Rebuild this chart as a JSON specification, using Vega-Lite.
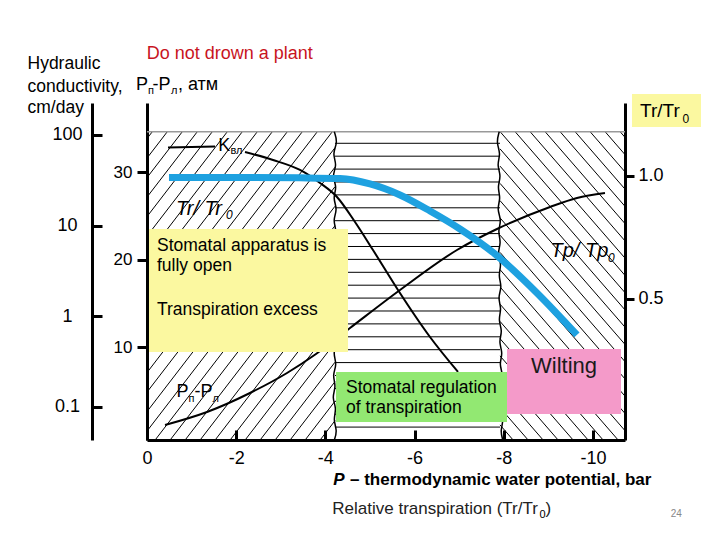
{
  "$schema": "https://vega.github.io/schema/vega-lite/v6.json",
  "width": 478,
  "height": 337,
  "autosize": "none",
  "padding": {"left": 147, "top": 103, "right": 95, "bottom": 100},
  "background": "white",
  "config": {"view": {"stroke": null}, "font": "Liberation Sans"},
  "resolve": {"scale": {"y": "independent"}, "axis": {"y": "independent", "x": "independent"}},
  "layer": [
    {
      "data": {"values": [
        {"x":0,"y":1.152,"x2":-0.1196,"y2":1.1801},
        {"x":0,"y":1.0727,"x2":-0.456,"y2":1.1801},
        {"x":0,"y":0.9934,"x2":-0.7924,"y2":1.1801},
        {"x":0,"y":0.9142,"x2":-1.1288,"y2":1.1801},
        {"x":0,"y":0.8349,"x2":-1.4652,"y2":1.1801},
        {"x":0,"y":0.7556,"x2":-1.8016,"y2":1.1801},
        {"x":0,"y":0.6764,"x2":-2.138,"y2":1.1801},
        {"x":0,"y":0.5971,"x2":-2.4744,"y2":1.1801},
        {"x":0,"y":0.5179,"x2":-2.8108,"y2":1.1801},
        {"x":0,"y":0.4386,"x2":-3.1472,"y2":1.1801},
        {"x":0,"y":0.3594,"x2":-3.4836,"y2":1.1801},
        {"x":0,"y":0.2801,"x2":-3.82,"y2":1.1801},
        {"x":0,"y":0.2009,"x2":-4.1564,"y2":1.1801},
        {"x":0,"y":0.1216,"x2":-4.216,"y2":1.1149},
        {"x":0,"y":0.0423,"x2":-4.216,"y2":1.0356},
        {"x":0,"y":-0.0369,"x2":-4.216,"y2":0.9564},
        {"x":-0.1824,"y":-0.0732,"x2":-4.216,"y2":0.8771},
        {"x":-0.5188,"y":-0.0732,"x2":-4.216,"y2":0.7979},
        {"x":-0.8552,"y":-0.0732,"x2":-4.216,"y2":0.7186},
        {"x":-1.1916,"y":-0.0732,"x2":-4.216,"y2":0.6393},
        {"x":-1.528,"y":-0.0732,"x2":-4.216,"y2":0.5601},
        {"x":-1.8644,"y":-0.0732,"x2":-4.216,"y2":0.4808},
        {"x":-2.2008,"y":-0.0732,"x2":-4.216,"y2":0.4016},
        {"x":-2.5372,"y":-0.0732,"x2":-4.216,"y2":0.3223},
        {"x":-2.8736,"y":-0.0732,"x2":-4.216,"y2":0.2431},
        {"x":-3.21,"y":-0.0732,"x2":-4.216,"y2":0.1638},
        {"x":-3.5464,"y":-0.0732,"x2":-4.216,"y2":0.0846},
        {"x":-3.8828,"y":-0.0732,"x2":-4.216,"y2":0.0053},
        {"x":-10.61,"y":1.1801,"x2":-10.72,"y2":1.1572},
        {"x":-10.2736,"y":1.1801,"x2":-10.72,"y2":1.087},
        {"x":-9.9372,"y":1.1801,"x2":-10.72,"y2":1.0169},
        {"x":-9.6008,"y":1.1801,"x2":-10.72,"y2":0.9467},
        {"x":-9.2644,"y":1.1801,"x2":-10.72,"y2":0.8766},
        {"x":-8.928,"y":1.1801,"x2":-10.72,"y2":0.8065},
        {"x":-8.5916,"y":1.1801,"x2":-10.72,"y2":0.7363},
        {"x":-8.2552,"y":1.1801,"x2":-10.72,"y2":0.6662},
        {"x":-7.9188,"y":1.1801,"x2":-10.72,"y2":0.596},
        {"x":-7.917,"y":1.1103,"x2":-10.72,"y2":0.5259},
        {"x":-7.917,"y":1.0402,"x2":-10.72,"y2":0.4558},
        {"x":-7.917,"y":0.9701,"x2":-10.72,"y2":0.3856},
        {"x":-7.917,"y":0.8999,"x2":-10.72,"y2":0.3155},
        {"x":-7.917,"y":0.8298,"x2":-10.72,"y2":0.2454},
        {"x":-7.917,"y":0.7596,"x2":-10.72,"y2":0.1752},
        {"x":-7.917,"y":0.6895,"x2":-10.72,"y2":0.1051},
        {"x":-7.917,"y":0.6194,"x2":-10.72,"y2":0.0349},
        {"x":-7.917,"y":0.5492,"x2":-10.72,"y2":-0.0352},
        {"x":-7.917,"y":0.4791,"x2":-10.5658,"y2":-0.0732},
        {"x":-7.917,"y":0.4089,"x2":-10.2294,"y2":-0.0732},
        {"x":-7.917,"y":0.3388,"x2":-9.893,"y2":-0.0732},
        {"x":-7.917,"y":0.2687,"x2":-9.5566,"y2":-0.0732},
        {"x":-7.917,"y":0.1985,"x2":-9.2202,"y2":-0.0732},
        {"x":-7.917,"y":0.1284,"x2":-8.8838,"y2":-0.0732},
        {"x":-7.917,"y":0.0582,"x2":-8.5474,"y2":-0.0732},
        {"x":-7.917,"y":-0.0119,"x2":-8.211,"y2":-0.0732},
        {"x":-4.216,"y":1.1329,"x2":-7.917,"y2":1.1329},
        {"x":-4.216,"y":1.0805,"x2":-7.917,"y2":1.0805},
        {"x":-4.216,"y":1.028,"x2":-7.917,"y2":1.028},
        {"x":-4.216,"y":0.9756,"x2":-7.917,"y2":0.9756},
        {"x":-4.216,"y":0.9232,"x2":-7.917,"y2":0.9232},
        {"x":-4.216,"y":0.8707,"x2":-7.917,"y2":0.8707},
        {"x":-4.216,"y":0.8183,"x2":-7.917,"y2":0.8183},
        {"x":-4.216,"y":0.7659,"x2":-7.917,"y2":0.7659},
        {"x":-4.216,"y":0.7134,"x2":-7.917,"y2":0.7134},
        {"x":-4.216,"y":0.661,"x2":-7.917,"y2":0.661},
        {"x":-4.216,"y":0.6085,"x2":-7.917,"y2":0.6085},
        {"x":-4.216,"y":0.5561,"x2":-7.917,"y2":0.5561},
        {"x":-4.216,"y":0.5037,"x2":-7.917,"y2":0.5037},
        {"x":-4.216,"y":0.4512,"x2":-7.917,"y2":0.4512},
        {"x":-4.216,"y":0.3988,"x2":-7.917,"y2":0.3988},
        {"x":-4.216,"y":0.3463,"x2":-7.917,"y2":0.3463},
        {"x":-4.216,"y":0.2939,"x2":-7.917,"y2":0.2939},
        {"x":-4.216,"y":0.2415,"x2":-7.917,"y2":0.2415},
        {"x":-4.216,"y":0.189,"x2":-7.917,"y2":0.189},
        {"x":-4.216,"y":0.1366,"x2":-7.917,"y2":0.1366},
        {"x":-4.216,"y":0.0841,"x2":-7.917,"y2":0.0841},
        {"x":-4.216,"y":0.0317,"x2":-7.917,"y2":0.0317},
        {"x":-4.216,"y":-0.0207,"x2":-7.917,"y2":-0.0207}
      ]},
      "mark": {"type": "rule", "color": "black", "strokeWidth": 1},
      "encoding": {
        "x": {"field": "x", "type": "quantitative", "scale": {"domain": [0, -10.72], "nice": false, "zero": false},
          "axis": {"orient": "bottom", "values": [0, -2, -4, -6, -8, -10], "labelExpr": "'' + datum.value", "title": null, "grid": false, "domainColor": "black", "domainWidth": 3, "tickColor": "black", "tickWidth": 3, "tickSize": -10, "labelPadding": 19, "labelFontSize": 18, "labelFont": "Liberation Sans", "labelColor": "black", "labelFlush": false, "labelOverlap": false}},
        "x2": {"field": "x2"},
        "y": {"field": "y", "type": "quantitative", "scale": {"domain": [-0.0732, 1.2967], "nice": false, "zero": false},
          "axis": {"orient": "right", "values": [0.5, 1.0], "format": ".1f", "title": null, "grid": false, "domainColor": "black", "domainWidth": 3, "tickColor": "black", "tickWidth": 3, "tickSize": 9, "labelPadding": 4, "labelFontSize": 18, "labelFont": "Liberation Sans", "labelColor": "black", "labelFlush": false}},
        "y2": {"field": "y2"}
      }
    },
    {
      "data": {"values": [{}]},
      "mark": {"type": "rule", "color": "#999999", "strokeWidth": 1.5},
      "encoding": {
        "x": {"datum": 0, "type": "quantitative", "scale": {"domain": [0, -10.72], "nice": false, "zero": false}, "axis": null},
        "x2": {"datum": -10.72},
        "y": {"datum": 1.1801, "type": "quantitative", "scale": {"domain": [-0.0732, 1.2967], "nice": false, "zero": false}, "axis": null}
      }
    },
    {
      "data": {"values": [
        {"b":"L","y":1.1801,"x":-4.2},{"b":"L","y":1.135,"x":-4.28},{"b":"L","y":1.09,"x":-4.15},{"b":"L","y":1.045,"x":-4.27},
        {"b":"L","y":1.0,"x":-4.14},{"b":"L","y":0.955,"x":-4.27},{"b":"L","y":0.91,"x":-4.16},{"b":"L","y":0.865,"x":-4.28},
        {"b":"L","y":0.82,"x":-4.16},{"b":"L","y":0.775,"x":-4.27},{"b":"L","y":0.73,"x":-4.15},{"b":"L","y":0.685,"x":-4.26},
        {"b":"L","y":0.64,"x":-4.16},{"b":"L","y":0.595,"x":-4.28},{"b":"L","y":0.55,"x":-4.17},{"b":"L","y":0.505,"x":-4.27},
        {"b":"L","y":0.46,"x":-4.15},{"b":"L","y":0.415,"x":-4.26},{"b":"L","y":0.37,"x":-4.17},{"b":"L","y":0.325,"x":-4.28},
        {"b":"L","y":0.28,"x":-4.16},{"b":"L","y":0.235,"x":-4.27},{"b":"L","y":0.19,"x":-4.15},{"b":"L","y":0.145,"x":-4.25},
        {"b":"L","y":0.1,"x":-4.14},{"b":"L","y":0.055,"x":-4.26},{"b":"L","y":0.01,"x":-4.17},{"b":"L","y":-0.035,"x":-4.27},
        {"b":"L","y":-0.0732,"x":-4.2},
        {"b":"R","y":1.1801,"x":-7.9},{"b":"R","y":1.135,"x":-7.83},{"b":"R","y":1.09,"x":-7.94},{"b":"R","y":1.045,"x":-7.84},
        {"b":"R","y":1.0,"x":-7.95},{"b":"R","y":0.955,"x":-7.85},{"b":"R","y":0.91,"x":-7.94},{"b":"R","y":0.865,"x":-7.84},
        {"b":"R","y":0.82,"x":-7.96},{"b":"R","y":0.775,"x":-7.86},{"b":"R","y":0.73,"x":-7.95},{"b":"R","y":0.685,"x":-7.85},
        {"b":"R","y":0.64,"x":-7.96},{"b":"R","y":0.595,"x":-7.87},{"b":"R","y":0.55,"x":-7.97},{"b":"R","y":0.505,"x":-7.86},
        {"b":"R","y":0.46,"x":-7.96},{"b":"R","y":0.415,"x":-7.87},{"b":"R","y":0.37,"x":-7.98},{"b":"R","y":0.325,"x":-7.88},
        {"b":"R","y":0.28,"x":-7.99},{"b":"R","y":0.235,"x":-7.89},{"b":"R","y":0.19,"x":-8.0},{"b":"R","y":0.145,"x":-7.9},
        {"b":"R","y":0.1,"x":-7.99},{"b":"R","y":0.055,"x":-7.91},{"b":"R","y":0.01,"x":-8.01},{"b":"R","y":-0.035,"x":-7.92},
        {"b":"R","y":-0.0732,"x":-7.98}
      ]},
      "mark": {"type": "line", "color": "black", "strokeWidth": 1.5, "interpolate": "basis"},
      "encoding": {
        "x": {"field": "x", "type": "quantitative", "scale": {"domain": [0, -10.72], "nice": false, "zero": false}, "axis": null},
        "y": {"field": "y", "type": "quantitative", "scale": {"domain": [-0.0732, 1.2967], "nice": false, "zero": false}, "axis": null},
        "detail": {"field": "b"},
        "order": {"field": "y", "type": "quantitative"}
      }
    },
    {
      "data": {"values": [
        {"c":"kA","x":-0.471,"y":1.1159},{"c":"kA","x":-1.525,"y":1.1199},
        {"c":"kB","x":-2.198,"y":1.0976},{"c":"kB","x":-2.826,"y":1.065},{"c":"kB","x":-3.431,"y":1.0244},{"c":"kB","x":-3.88,"y":0.9715},
        {"c":"kB","x":-4.261,"y":0.9146},{"c":"kB","x":-4.665,"y":0.813},{"c":"kB","x":-5.068,"y":0.6992},{"c":"kB","x":-5.629,"y":0.5366},
        {"c":"kB","x":-6.347,"y":0.3455},{"c":"kB","x":-6.975,"y":0.2033},
        {"c":"pp","x":-0.404,"y":-0.0122},{"c":"pp","x":-1.346,"y":0.0407},{"c":"pp","x":-2.31,"y":0.1179},{"c":"pp","x":-3.14,"y":0.1992},
        {"c":"pp","x":-3.79,"y":0.2764},{"c":"pp","x":-4.553,"y":0.3821},{"c":"pp","x":-5.674,"y":0.5366},{"c":"pp","x":-6.952,"y":0.6992},
        {"c":"pp","x":-7.849,"y":0.7846},{"c":"pp","x":-9.038,"y":0.874},{"c":"pp","x":-9.643,"y":0.9106},{"c":"pp","x":-10.271,"y":0.9309}
      ]},
      "mark": {"type": "line", "color": "black", "strokeWidth": 2, "interpolate": "monotone"},
      "encoding": {
        "x": {"field": "x", "type": "quantitative", "scale": {"domain": [0, -10.72], "nice": false, "zero": false}, "axis": null},
        "y": {"field": "y", "type": "quantitative", "scale": {"domain": [-0.0732, 1.2967], "nice": false, "zero": false}, "axis": null},
        "detail": {"field": "c"}
      }
    },
    {
      "data": {"values": [
        {"x":-1.599,"y":1.1016,"t":"K"},
        {"x":0.2467,"y":1.3496,"t":"P"},
        {"x":-0.1233,"y":1.3496,"t":"-P"},
        {"x":-0.6952,"y":1.3496,"t":", атм"},
        {"x":-0.6616,"y":0.1004,"t":"P"},
        {"x":-1.0653,"y":0.1004,"t":"-P"}
      ]},
      "mark": {"type": "text", "align": "left", "baseline": "alphabetic", "font": "Liberation Sans", "fontSize": 18, "color": "black"},
      "encoding": {
        "x": {"field": "x", "type": "quantitative", "scale": {"domain": [0, -10.72], "nice": false, "zero": false}, "axis": null},
        "y": {"field": "y", "type": "quantitative", "scale": {"domain": [-0.0732, 1.2967], "nice": false, "zero": false}, "axis": null},
        "text": {"field": "t"}
      }
    },
    {
      "data": {"values": [
        {"x":-1.8726,"y":1.0882,"t":"вл"},
        {"x":-0.0224,"y":1.3333,"t":"п"},
        {"x":-0.5382,"y":1.3333,"t":"л"},
        {"x":-0.9307,"y":0.0833,"t":"п"},
        {"x":-1.4689,"y":0.0833,"t":"л"},
        {"x":-8.802,"y":-0.3902,"t":"0"}
      ]},
      "mark": {"type": "text", "align": "left", "baseline": "alphabetic", "font": "Liberation Sans", "fontSize": 11, "color": "black"},
      "encoding": {
        "x": {"field": "x", "type": "quantitative", "scale": {"domain": [0, -10.72], "nice": false, "zero": false}, "axis": null},
        "y": {"field": "y", "type": "quantitative", "scale": {"domain": [-0.0732, 1.2967], "nice": false, "zero": false}, "axis": null},
        "text": {"field": "t"}
      }
    },
    {
      "data": {"values": [
        {"x":-0.65,"y":0.8415,"t":"Tr/ Tr"},
        {"x":-9.049,"y":0.6687,"t":"Tp/ Tp"}
      ]},
      "mark": {"type": "text", "align": "left", "baseline": "alphabetic", "font": "Liberation Sans", "fontSize": 20, "fontStyle": "italic", "color": "black"},
      "encoding": {
        "x": {"field": "x", "type": "quantitative", "scale": {"domain": [0, -10.72], "nice": false, "zero": false}, "axis": null},
        "y": {"field": "y", "type": "quantitative", "scale": {"domain": [-0.0732, 1.2967], "nice": false, "zero": false}, "axis": null},
        "text": {"field": "t"}
      }
    },
    {
      "data": {"values": [
        {"x":-1.772,"y":0.8232,"t":"0"},
        {"x":-10.339,"y":0.6504,"t":"0"}
      ]},
      "mark": {"type": "text", "align": "left", "baseline": "alphabetic", "font": "Liberation Sans", "fontSize": 12, "fontStyle": "italic", "color": "black"},
      "encoding": {
        "x": {"field": "x", "type": "quantitative", "scale": {"domain": [0, -10.72], "nice": false, "zero": false}, "axis": null},
        "y": {"field": "y", "type": "quantitative", "scale": {"domain": [-0.0732, 1.2967], "nice": false, "zero": false}, "axis": null},
        "text": {"field": "t"}
      }
    },
    {
      "data": {"values": [
        {"box":"open","x":-0.0449,"x2":-4.508,"y":0.7846,"y2":0.2846},
        {"box":"regulation","x":-4.239,"x2":-8.074,"y":0.2033,"y2":0.0},
        {"box":"wilting","x":-8.074,"x2":-10.63,"y":0.2967,"y2":0.0325},
        {"box":"ratio","x":-10.877,"x2":-12.424,"y":1.3333,"y2":1.1992}
      ]},
      "mark": {"type": "rect"},
      "encoding": {
        "x": {"field": "x", "type": "quantitative", "scale": {"domain": [0, -10.72], "nice": false, "zero": false}, "axis": null},
        "x2": {"field": "x2"},
        "y": {"field": "y", "type": "quantitative", "scale": {"domain": [-0.0732, 1.2967], "nice": false, "zero": false}, "axis": null},
        "y2": {"field": "y2"},
        "color": {"field": "box", "type": "nominal", "legend": null,
          "scale": {"domain": ["open", "regulation", "wilting", "ratio"], "range": ["#fbf8a0", "#92e872", "#f49ac9", "#fbf8a0"]}}
      }
    },
    {
      "data": {"values": [{"x":-11.056,"y":1.2386,"t":"Tr/Tr"}]},
      "mark": {"type": "text", "align": "left", "baseline": "alphabetic", "font": "Liberation Sans", "fontSize": 19, "color": "black"},
      "encoding": {
        "x": {"field": "x", "type": "quantitative", "scale": {"domain": [0, -10.72], "nice": false, "zero": false}, "axis": null},
        "y": {"field": "y", "type": "quantitative", "scale": {"domain": [-0.0732, 1.2967], "nice": false, "zero": false}, "axis": null},
        "text": {"field": "t"}
      }
    },
    {
      "data": {"values": [{"x":-12.01,"y":1.2142,"t":"0"}]},
      "mark": {"type": "text", "align": "left", "baseline": "alphabetic", "font": "Liberation Sans", "fontSize": 12, "color": "black"},
      "encoding": {
        "x": {"field": "x", "type": "quantitative", "scale": {"domain": [0, -10.72], "nice": false, "zero": false}, "axis": null},
        "y": {"field": "y", "type": "quantitative", "scale": {"domain": [-0.0732, 1.2967], "nice": false, "zero": false}, "axis": null},
        "text": {"field": "t"}
      }
    },
    {
      "data": {"values": [
        {"x":2.68,"y":1.4337,"t":"Hydraulic"},
        {"x":2.68,"y":1.3402,"t":"conductivity,"},
        {"x":2.68,"y":1.2573,"t":"cm/day"},
        {"x":-0.2243,"y":0.6963,"t":"Stomatal apparatus is"},
        {"x":-0.2243,"y":0.6138,"t":"fully open"},
        {"x":-0.2243,"y":0.435,"t":"Transpiration excess"},
        {"x":-4.463,"y":0.1191,"t":"Stomatal regulation"},
        {"x":-4.463,"y":0.0354,"t":"of transpiration"}
      ]},
      "mark": {"type": "text", "align": "left", "baseline": "alphabetic", "font": "Liberation Sans", "fontSize": 17.5, "color": "black"},
      "encoding": {
        "x": {"field": "x", "type": "quantitative", "scale": {"domain": [0, -10.72], "nice": false, "zero": false}, "axis": null},
        "y": {"field": "y", "type": "quantitative", "scale": {"domain": [-0.0732, 1.2967], "nice": false, "zero": false}, "axis": null},
        "text": {"field": "t"}
      }
    },
    {
      "data": {"values": [{"x":0.0067,"y":1.4744,"t":"Do not drown a plant"}]},
      "mark": {"type": "text", "align": "left", "baseline": "alphabetic", "font": "Liberation Sans", "fontSize": 18, "color": "#c8141e"},
      "encoding": {
        "x": {"field": "x", "type": "quantitative", "scale": {"domain": [0, -10.72], "nice": false, "zero": false}, "axis": null},
        "y": {"field": "y", "type": "quantitative", "scale": {"domain": [-0.0732, 1.2967], "nice": false, "zero": false}, "axis": null},
        "text": {"field": "t"}
      }
    },
    {
      "data": {"values": [{"x":-9.352,"y":0.198,"t":"Wilting"}]},
      "mark": {"type": "text", "align": "center", "baseline": "alphabetic", "font": "Liberation Sans", "fontSize": 22, "color": "#1a1a1a"},
      "encoding": {
        "x": {"field": "x", "type": "quantitative", "scale": {"domain": [0, -10.72], "nice": false, "zero": false}, "axis": null},
        "y": {"field": "y", "type": "quantitative", "scale": {"domain": [-0.0732, 1.2967], "nice": false, "zero": false}, "axis": null},
        "text": {"field": "t"}
      }
    },
    {
      "data": {"values": [
        {"c":"tr","x":-0.493,"y":0.9939},{"c":"tr","x":-2.31,"y":0.994},{"c":"tr","x":-3.431,"y":0.9927},{"c":"tr","x":-4.328,"y":0.9898},
        {"c":"tr","x":-5.001,"y":0.9675},{"c":"tr","x":-5.674,"y":0.9228},{"c":"tr","x":-6.347,"y":0.8577},{"c":"tr","x":-7.019,"y":0.7846},
        {"c":"tr","x":-7.804,"y":0.6829},{"c":"tr","x":-8.746,"y":0.5244},{"c":"tr","x":-9.643,"y":0.3537}
      ]},
      "mark": {"type": "line", "color": "#1ea1e0", "strokeWidth": 7, "interpolate": "monotone"},
      "encoding": {
        "x": {"field": "x", "type": "quantitative", "scale": {"domain": [0, -10.72], "nice": false, "zero": false}, "axis": null},
        "y": {"field": "y", "type": "quantitative", "scale": {"domain": [-0.0732, 1.2967], "nice": false, "zero": false}, "axis": null}
      }
    },
    {
      "data": {"values": [{"x":-4.178,"y":-0.2561,"t":"P"}]},
      "mark": {"type": "text", "align": "left", "baseline": "alphabetic", "font": "Liberation Sans", "fontSize": 17, "fontWeight": "bold", "fontStyle": "italic", "color": "black"},
      "encoding": {
        "x": {"field": "x", "type": "quantitative", "scale": {"domain": [0, -10.72], "nice": false, "zero": false}, "axis": null},
        "y": {"field": "y", "type": "quantitative", "scale": {"domain": [-0.0732, 1.2967], "nice": false, "zero": false}, "axis": null},
        "text": {"field": "t"}
      }
    },
    {
      "data": {"values": [{"x":-4.553,"y":-0.2561,"t":"– thermodynamic water potential, bar"}]},
      "mark": {"type": "text", "align": "left", "baseline": "alphabetic", "font": "Liberation Sans", "fontSize": 17, "fontWeight": "bold", "color": "black"},
      "encoding": {
        "x": {"field": "x", "type": "quantitative", "scale": {"domain": [0, -10.72], "nice": false, "zero": false}, "axis": null},
        "y": {"field": "y", "type": "quantitative", "scale": {"domain": [-0.0732, 1.2967], "nice": false, "zero": false}, "axis": null},
        "text": {"field": "t"}
      }
    },
    {
      "data": {"values": [
        {"x":-4.155,"y":-0.374,"t":"Relative transpiration (Tr/Tr"},
        {"x":-8.939,"y":-0.374,"t":")"}
      ]},
      "mark": {"type": "text", "align": "left", "baseline": "alphabetic", "font": "Liberation Sans", "fontSize": 17, "color": "#222222"},
      "encoding": {
        "x": {"field": "x", "type": "quantitative", "scale": {"domain": [0, -10.72], "nice": false, "zero": false}, "axis": null},
        "y": {"field": "y", "type": "quantitative", "scale": {"domain": [-0.0732, 1.2967], "nice": false, "zero": false}, "axis": null},
        "text": {"field": "t"}
      }
    },
    {
      "data": {"values": [{"x":-11.745,"y":-0.3874,"t":"24"}]},
      "mark": {"type": "text", "align": "left", "baseline": "alphabetic", "font": "Liberation Sans", "fontSize": 10, "color": "#888888"},
      "encoding": {
        "x": {"field": "x", "type": "quantitative", "scale": {"domain": [0, -10.72], "nice": false, "zero": false}, "axis": null},
        "y": {"field": "y", "type": "quantitative", "scale": {"domain": [-0.0732, 1.2967], "nice": false, "zero": false}, "axis": null},
        "text": {"field": "t"}
      }
    },
    {
      "data": {"values": [{"v":10},{"v":20},{"v":30}]},
      "mark": {"type": "point", "opacity": 0},
      "encoding": {
        "y": {"field": "v", "type": "quantitative", "scale": {"domain": [-0.64, 37.96], "nice": false, "zero": false},
          "axis": {"orient": "left", "values": [10, 20, 30], "title": null, "grid": false, "domainColor": "black", "domainWidth": 3, "tickColor": "black", "tickWidth": 3, "tickSize": 10, "labelPadding": 5, "labelFontSize": 17, "labelFont": "Liberation Sans", "labelColor": "black", "labelFlush": false}}
      }
    },
    {
      "data": {"values": [{"v":0.1},{"v":1},{"v":10},{"v":100}]},
      "mark": {"type": "point", "opacity": 0},
      "encoding": {
        "y": {"field": "v", "type": "quantitative", "scale": {"type": "log", "domain": [0.04325, 224.4], "nice": false},
          "axis": {"orient": "left", "offset": 55, "values": [0.1, 1, 10, 100], "labelExpr": "'' + datum.value", "title": null, "grid": false, "domainColor": "black", "domainWidth": 3, "tickColor": "black", "tickWidth": 3, "tickSize": -10, "labelPadding": 35, "labelAlign": "center", "labelFontSize": 18, "labelFont": "Liberation Sans", "labelColor": "black", "labelFlush": false}}
      }
    }
  ]
}
